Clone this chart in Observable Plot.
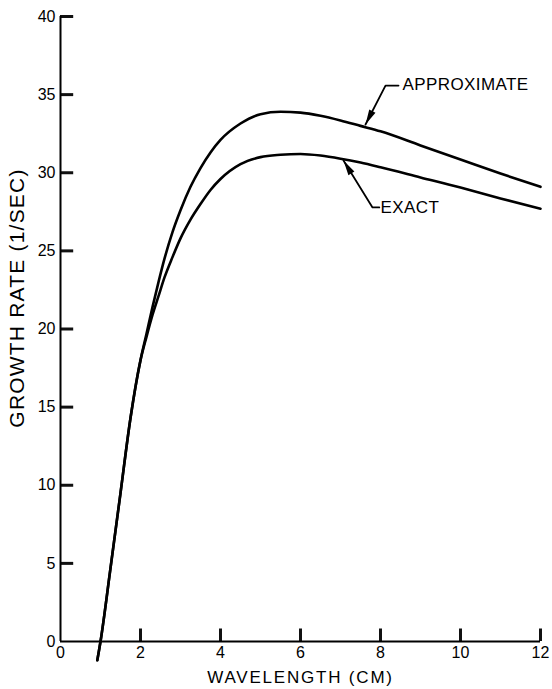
<!DOCTYPE html>
<html>
<head>
<meta charset="utf-8">
<script src="https://cdn.jsdelivr.net/npm/d3@7"></script>
<script src="https://cdn.jsdelivr.net/npm/@observablehq/plot@0.6"></script>
<style>
  html, body { margin: 0; padding: 0; background: #fff; }
  #chart svg { display: block; }
</style>
</head>
<body>
<div id="chart"></div>
<script>
// ---- data ----
const wavelength  = [0.92, 1.0, 1.25, 1.5, 1.75, 2.0, 2.15, 2.3, 2.45, 2.6, 2.8, 3.0, 3.25, 3.5, 3.75, 4.0, 4.5, 5.0, 5.5, 6.0, 6.5, 7.0, 7.5, 8.0, 9.0, 10.0, 11.0, 12.0];
const approximate = [-1.2, 0, 4.7, 9.5, 14.3, 18.0, 19.7, 21.4, 23.0, 24.5, 26.2, 27.6, 29.1, 30.3, 31.3, 32.1, 33.15, 33.75, 33.9, 33.85, 33.65, 33.35, 33.0, 32.65, 31.75, 30.85, 29.95, 29.1];
const exact       = [-1.2, 0, 4.7, 9.5, 14.3, 18.0, 19.5, 20.9, 22.1, 23.3, 24.6, 25.8, 27.0, 28.0, 28.9, 29.6, 30.55, 31.0, 31.15, 31.2, 31.1, 30.9, 30.65, 30.35, 29.7, 29.05, 28.35, 27.7];

const xTicks = [0, 2, 4, 6, 8, 10, 12];
const yTicks = [0, 5, 10, 15, 20, 25, 30, 35, 40];
const xTickMarks = [2, 4, 6, 8, 10, 12];
const yTickMarks = [5, 10, 15, 20, 25, 30, 35, 40];

const xLabel = "WAVELENGTH (CM)";
const yLabel = "GROWTH RATE (1/SEC)";

const labels = [
  {text: "APPROXIMATE", x: 8.55, y: 35.65},
  {text: "EXACT", x: 8.0, y: 27.78}
];
const leaders = [
  {name: "APPROXIMATE", pts: [[8.45, 35.58], [8.125, 35.58], [7.625, 33.09]]},
  {name: "EXACT", pts: [[7.97, 27.78], [7.8, 27.78], [7.075, 30.78]]}
];

// ---- build tables ----
const rows = [];
wavelength.forEach((w, i) => {
  rows.push({series: "APPROXIMATE", x: w, y: approximate[i]});
  rows.push({series: "EXACT", x: w, y: exact[i]});
});
const leaderRows = leaders.flatMap(l => l.pts.map(([x, y]) => ({name: l.name, x, y})));

// layout
const W = 552, H = 689, mL = 60, mR = 12, mT = 16, mB = 48;
const kx = (W - mL - mR) / 12;     // px per x unit
const ky = (H - mT - mB) / 40;     // px per y unit
const heads = leaders.map(l => {
  const [x1, y1] = l.pts[l.pts.length - 2];
  const [x2, y2] = l.pts[l.pts.length - 1];
  const dx = (x2 - x1) * kx, dy = -(y2 - y1) * ky;
  return {x: x2, y: y2, rotate: Math.atan2(dx, -dy) * 180 / Math.PI};
});

const font = "'Liberation Sans', Arial, sans-serif";

const chart = Plot.plot({
  width: W,
  height: H,
  marginLeft: mL, marginRight: mR, marginTop: mT, marginBottom: mB,
  style: {fontFamily: font, fontSize: "16px"},
  x: {domain: [0, 12]},
  y: {domain: [0, 40]},
  marks: [
    // inward tick marks (about 12 px long)
    Plot.ruleX(xTickMarks, {x: d => d, y1: 0, y2: 0.8, stroke: "#111", strokeWidth: 3}),
    Plot.ruleY(yTickMarks, {y: d => d, x1: 0, x2: 0.33, stroke: "#111", strokeWidth: 3}),
    // axis tick labels
    Plot.axisX(xTicks, {tickSize: 0, tickPadding: 5, fontSize: 16, label: null}),
    Plot.axisY(yTicks, {tickSize: 0, tickPadding: 5, fontSize: 16, label: null}),
    // spines
    Plot.ruleX([0], {y1: 0, y2: 40, stroke: "black", strokeWidth: 2}),
    Plot.ruleY([0], {x1: 0, x2: 12, stroke: "black", strokeWidth: 2}),
    // axis titles
    Plot.text([xLabel], {frameAnchor: "bottom", dy: 36, fontSize: 17, lineAnchor: "middle"}),
    Plot.text([yLabel], {frameAnchor: "left", textAnchor: "middle", dx: -43, dy: -31, rotate: -90, fontSize: 21}),
    // curves
    Plot.line(rows, {x: "x", y: "y", z: "series", curve: "monotone-x", stroke: "black", strokeWidth: 2.6}),
    // annotation leaders
    Plot.line(leaderRows, {x: "x", y: "y", z: "name", stroke: "black", strokeWidth: 1.8}),
    Plot.vector(heads, {x: "x", y: "y", rotate: "rotate", anchor: "end", shape: "spike", length: 15, r: 3.5, fill: "black", stroke: "none"}),
    Plot.text(labels, {x: "x", y: "y", text: "text", textAnchor: "start", fontSize: 17})
  ]
});
d3.select(chart).selectAll("text").each(function () {
  const t = this.textContent;
  if (t === xLabel) this.style.letterSpacing = "1.8px";
  if (t === yLabel) this.style.letterSpacing = "1.2px";
  if (t === "APPROXIMATE" || t === "EXACT") this.style.letterSpacing = "0.4px";
});
document.getElementById("chart").appendChild(chart);
</script>
</body>
</html>
